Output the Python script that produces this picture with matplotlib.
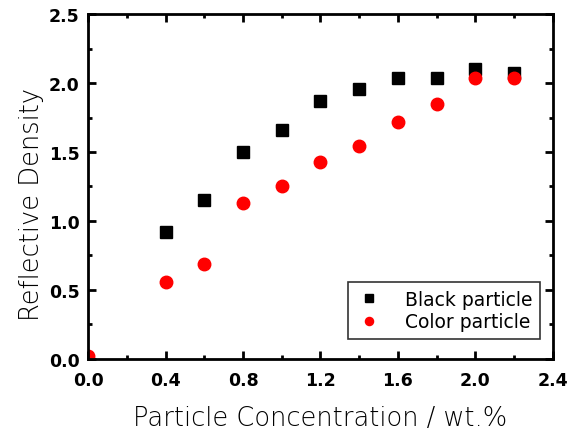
import numpy as np
from matplotlib import pyplot as plt
from matplotlib.ticker import MultipleLocator

blackConc = [0.4, 0.6, 0.8, 1.0, 1.2, 1.4, 1.6, 1.8, 2.0, 2.2]
blackDensity = [0.92, 1.15, 1.50, 1.66, 1.87, 1.96, 2.04, 2.04, 2.10, 2.07]

colorConc = [0.0, 0.4, 0.6, 0.8, 1.0, 1.2, 1.4, 1.6, 1.8, 2.0, 2.2]
colorDensity = [0.02, 0.56, 0.69, 1.13, 1.25, 1.43, 1.54, 1.72, 1.85, 2.04, 2.04]

plt.rcParams['font.family'] = ['DejaVu Sans']

fig = plt.figure(figsize=(5.8, 4.31), dpi=100)
ax = fig.add_axes([0.152, 0.165, 0.801, 0.8])

ax.plot(blackConc, blackDensity, linestyle='none', marker='s', markersize=9,
        color='black', label='Black particle')
ax.plot(colorConc, colorDensity, linestyle='none', marker='o', markersize=9,
        color='red', label='Color particle')

ax.set_xlim(0, 2.4)
ax.set_ylim(0, 2.5)
ax.xaxis.set_major_locator(MultipleLocator(0.4))
ax.xaxis.set_minor_locator(MultipleLocator(0.2))
ax.yaxis.set_major_locator(MultipleLocator(0.5))
ax.yaxis.set_minor_locator(MultipleLocator(0.25))
ax.tick_params(which='both', direction='in', top=True, right=True, width=2)
ax.tick_params(which='major', length=6, labelsize=12.5)
ax.tick_params(which='minor', length=3)
ax.tick_params(axis='x', which='major', pad=9)
ax.tick_params(axis='y', which='major', pad=6)
for lbl in ax.get_xticklabels() + ax.get_yticklabels():
    lbl.set_fontweight('bold')
for spine in ax.spines.values():
    spine.set_linewidth(2)

ax.set_xlabel('Particle Concentration / wt.%', fontsize=18.5, fontweight='light', labelpad=11)
ax.set_ylabel('Reflective Density', fontsize=18.5, fontweight='light')
ax.yaxis.set_label_coords(-0.095, 0.45)

leg = ax.legend(loc='lower right', bbox_to_anchor=(0.972, 0.058), borderaxespad=0,
                fontsize=13.5, frameon=True, fancybox=False, edgecolor='black',
                markerscale=0.65, handlelength=1.4, handletextpad=1.2,
                borderpad=0.4, labelspacing=0.2)
leg.get_frame().set_linewidth(1.2)

plt.savefig('out.png', dpi=100)
plt.close()
